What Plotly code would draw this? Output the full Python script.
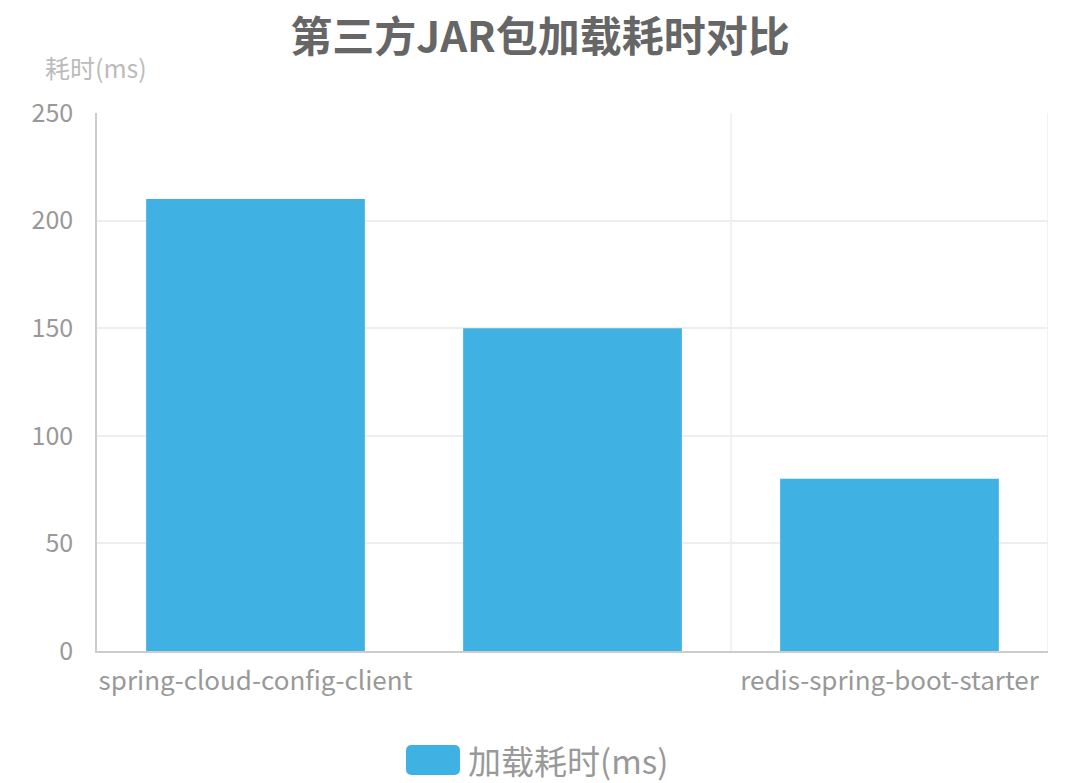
import plotly.graph_objects as go

# data
categories = ['spring-cloud-config-client', 'spring-boot-starter', 'redis-spring-boot-starter']
tick_labels = ['spring-cloud-config-client', '', 'redis-spring-boot-starter']  # middle label hidden in the original
load_ms = [210, 150, 80]
series_name = '加载耗时(ms)'
title = '第三方JAR包加载耗时对比'
y_name = '耗时(ms)'

bar_color = '#3fb1e3'
font = 'Noto Sans CJK SC'

fig = go.Figure()
fig.add_trace(go.Bar(
    x=categories,
    y=load_ms,
    name=series_name,
    marker=dict(color=bar_color, line=dict(width=0)),
    showlegend=False,
))

# category split lines (every other boundary, like the original)
for pos in [1.5, 2.5]:
    fig.add_shape(type='line', xref='x', yref='paper', x0=pos, x1=pos, y0=0, y1=1,
                  line=dict(color='#eeeeee', width=1.5), layer='below')

fig.update_layout(
    width=1080, height=783,
    margin=dict(l=97, r=32, t=113, b=132),
    paper_bgcolor='white', plot_bgcolor='white',
    bargap=0.31,
    font=dict(family=font, color='#999999'),
    title=dict(text=title, x=0.5, xanchor='center', y=0.953, yanchor='middle',
               font=dict(family=font, size=42, color='#666666', weight='bold')),
    xaxis=dict(
        type='category', range=[-0.5, 2.5],
        tickvals=categories, ticktext=tick_labels,
        tickfont=dict(size=26, color='#999999'),
        showline=True, linecolor='#cccccc', linewidth=1.5,
        showgrid=False, ticks='', ticklabelstandoff=6,
    ),
    yaxis=dict(
        range=[0, 250], dtick=50,
        tickfont=dict(size=25, color='#999999'),
        showline=True, linecolor='#cccccc', linewidth=1.5,
        showgrid=True, gridcolor='#eeeeee', gridwidth=1.5,
        zeroline=False, ticks='', ticklabelstandoff=17,
    ),
)

# axis name above the y axis
fig.add_annotation(text=y_name, xref='paper', yref='paper', x=-0.057, y=1.085,
                   xanchor='left', yanchor='middle', showarrow=False,
                   font=dict(family=font, size=25, color='#bbbbbb'))

# hand-drawn legend with a big rounded swatch
x0, x1 = (406 - 97) / 951, (460 - 97) / 951
y0, y1 = (651 - 775) / 538, (651 - 745) / 538
r = 0.006
ry = r * 951 / 538
fig.add_shape(type='path', xref='paper', yref='paper',
              path=(f'M {x0 + r} {y0} L {x1 - r} {y0} Q {x1} {y0} {x1} {y0 + ry} '
                    f'L {x1} {y1 - ry} Q {x1} {y1} {x1 - r} {y1} L {x0 + r} {y1} '
                    f'Q {x0} {y1} {x0} {y1 - ry} L {x0} {y0 + ry} Q {x0} {y0} {x0 + r} {y0} Z'),
              fillcolor=bar_color, line=dict(width=0))
fig.add_annotation(text=series_name, xref='paper', yref='paper', x=(466 - 97) / 951, y=(y0 + y1) / 2,
                   xanchor='left', yanchor='middle', showarrow=False,
                   font=dict(family=font, size=33, color='#999999'))

# drop the default page margin so the figure sits at the window's corner
fig.write_html('out.html', config={'displayModeBar': False},
               post_script="document.body.style.margin='0';")
